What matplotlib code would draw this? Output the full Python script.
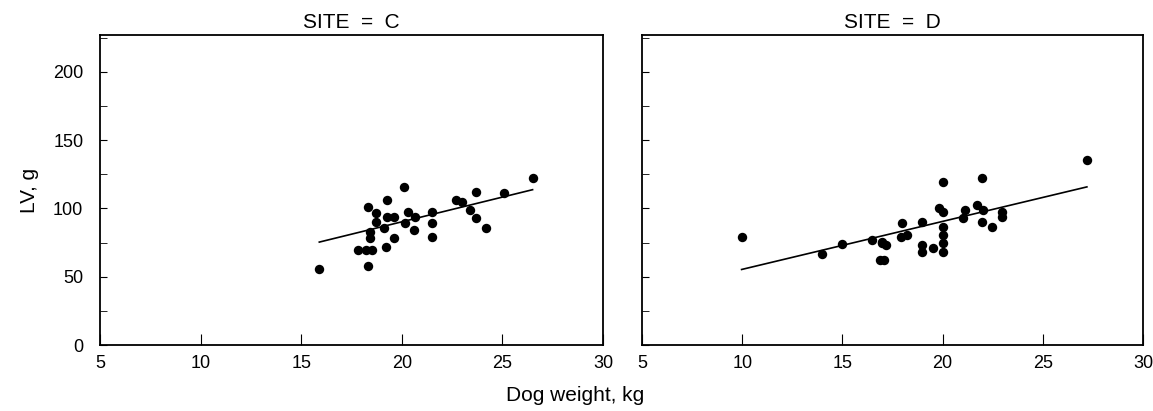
import numpy as np
import matplotlib
matplotlib.use("Agg")
import matplotlib.pyplot as plt
from matplotlib.ticker import MultipleLocator

plt.rcParams['font.family'] = ['Liberation Sans', 'DejaVu Sans']

# Site C: dog weight (kg) vs LV mass (g)
weightC = [15.9, 18.3, 20.1, 19.25, 18.3, 18.7, 19.25, 19.6, 20.3, 20.65,
           21.5, 21.5, 21.5, 18.7, 20.15, 20.6, 19.1, 18.4, 18.4, 19.6,
           19.2, 17.8, 18.2, 18.5, 22.7, 23.0, 23.7, 23.4, 23.7, 24.2,
           25.1, 26.5]
lvC = [56, 58, 115.5, 106, 101, 97, 94, 94, 97.6, 94,
       97.6, 89, 79, 90, 89, 84, 85.7, 83, 78, 78,
       72, 69.6, 69.6, 69.6, 106, 105, 112, 99, 93, 86,
       111, 122]

# Site D
weightD = [9.97, 27.2, 20.0, 21.95, 13.97, 14.97, 16.46, 16.96, 17.2, 17.1,
           16.86, 17.9, 17.96, 18.2, 18.96, 18.96, 18.96, 19.5, 19.8, 20.0,
           20.0, 20.0, 20.0, 20.0, 21.1, 21.0, 21.7, 22.0, 21.95, 22.95,
           22.95, 22.45, 17.0]
lvD = [79.3, 135.5, 119, 122, 67, 73.7, 77, 75.7, 73, 62,
       62, 79.3, 89, 80.6, 90, 73, 68.3, 70.7, 100, 97.6,
       86.7, 80.6, 74.5, 68.3, 99, 92.8, 102.6, 99, 90, 97.6,
       94, 86.7, 75]

# fitted regression lines (intercept, slope)
fitC = (17.8, 3.62)
fitD = (20.3, 3.51)

panels = [("SITE  =  C", weightC, lvC, fitC),
          ("SITE  =  D", weightD, lvD, fitD)]

fig = plt.figure(figsize=(11.53, 4.11), dpi=100)
lefts = [100 / 1153, 642 / 1153]
widths = [503 / 1153, 501 / 1153]

for i, (title, xs, ys, fit) in enumerate(panels):
    ax = fig.add_axes([lefts[i], 66 / 411, widths[i], 310 / 411])
    ax.scatter(xs, ys, s=46, color='black', zorder=3, linewidths=0)
    xs_arr = np.array(xs)
    xl = np.array([xs_arr.min(), xs_arr.max()])
    ax.plot(xl, fit[0] + fit[1] * xl, color='black', lw=1.2)

    ax.set_xlim(5, 30)
    ax.set_ylim(0, 227)
    ax.set_xticks(range(5, 31, 5))
    ax.tick_params(axis='x', direction='in', length=8, labelsize=13, pad=7)
    ax.yaxis.set_minor_locator(MultipleLocator(25))
    ax.set_yticks(range(0, 201, 50))
    if i == 0:
        ax.tick_params(axis='y', direction='in', length=5, labelsize=13, pad=12)
        ax.set_ylabel("LV, g", fontsize=15, labelpad=10)
    else:
        ax.tick_params(axis='y', direction='in', length=5, labelleft=False)
    ax.tick_params(axis='y', which='minor', direction='in', length=5)
    for sp in ax.spines.values():
        sp.set_linewidth(1.3)
    ax.set_title(title, fontsize=15, pad=5)

fig.text(575 / 1153, 1 - 395 / 411, "Dog weight, kg", ha='center', va='center', fontsize=15)

fig.savefig("out.png", dpi=100)
